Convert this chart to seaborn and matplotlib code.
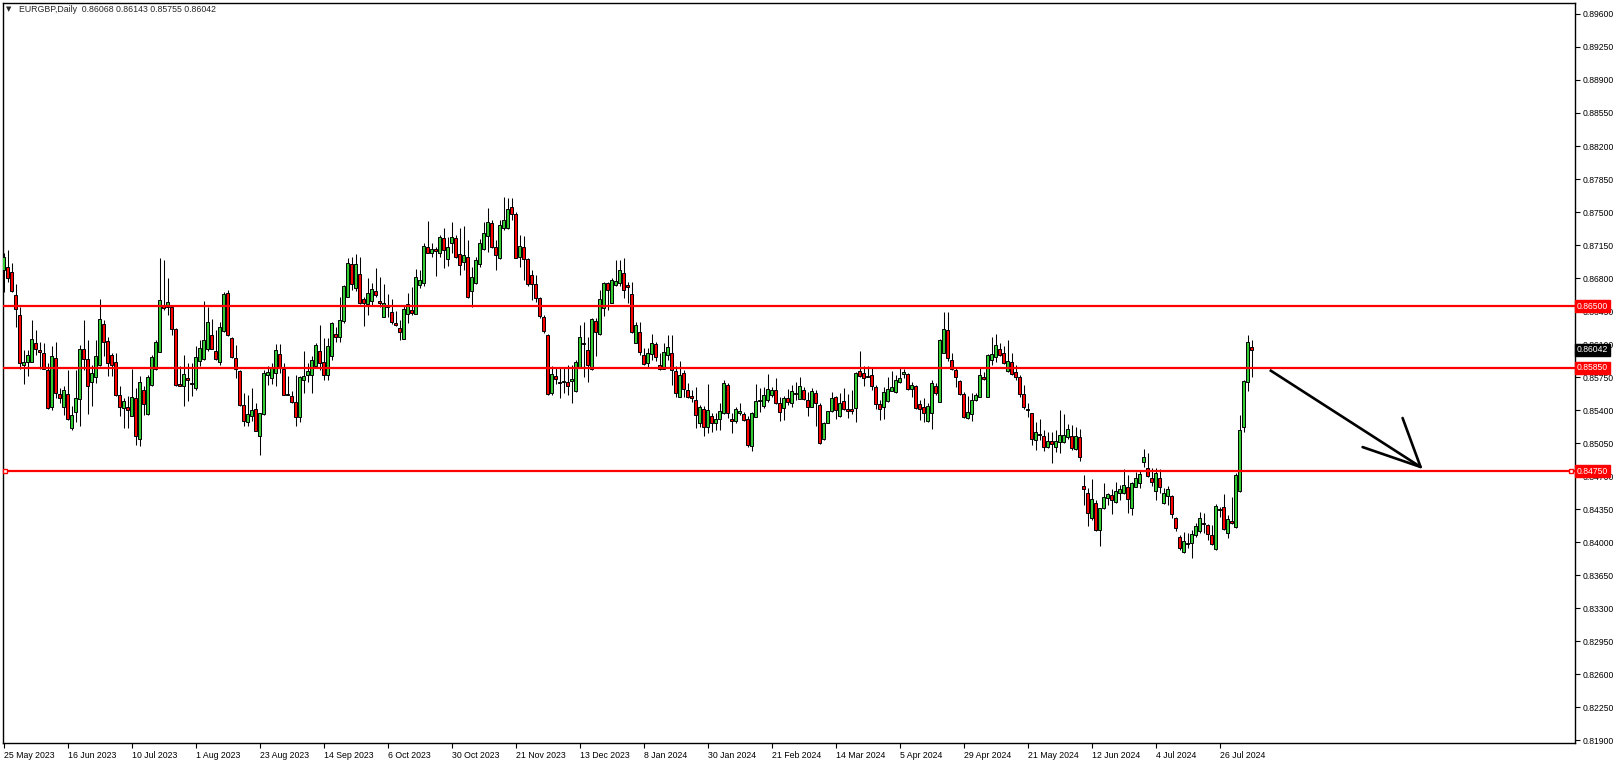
import numpy as np
import pandas as pd
import matplotlib
matplotlib.use("Agg")
import matplotlib.pyplot as plt
import matplotlib.transforms as mtransforms
import seaborn as sns

# EURGBP daily candles (oldest first)
opens = [
    0.86886, 0.86914, 0.86861, 0.86618, 0.86406, 0.85873, 0.85909, 0.85909, 0.86110, 0.86036,
    0.86004, 0.85824, 0.85432, 0.85951, 0.85573, 0.85432, 0.85573, 0.85206, 0.85379, 0.85517,
    0.86046, 0.85940, 0.85693, 0.85750, 0.85877, 0.86311, 0.86134, 0.85983, 0.85909, 0.85556,
    0.85421, 0.85432, 0.85340, 0.85527, 0.85093, 0.85612, 0.85358, 0.85665, 0.85834, 0.86014,
    0.86512, 0.86494, 0.86498, 0.86258, 0.85676, 0.85651, 0.85739, 0.85690, 0.85633, 0.85916,
    0.85940, 0.86050, 0.86194, 0.86029, 0.85905, 0.86244, 0.86639, 0.86163, 0.85955, 0.85813,
    0.85456, 0.85273, 0.85333, 0.85411, 0.85121, 0.85358, 0.85767, 0.85739, 0.85792, 0.85993,
    0.85834, 0.85573, 0.85552, 0.85485, 0.85326, 0.85714, 0.85771, 0.85774, 0.85870, 0.86022,
    0.85909, 0.85767, 0.85974, 0.86203, 0.86172, 0.86341, 0.86603, 0.86946, 0.86691, 0.86839,
    0.86574, 0.86521, 0.86560, 0.86659, 0.86553, 0.86391, 0.86504, 0.86437, 0.86320, 0.86267,
    0.86150, 0.86415, 0.86461, 0.86422, 0.86730, 0.86744, 0.87126, 0.87069, 0.87108, 0.87062,
    0.87221, 0.87006, 0.87168, 0.87221, 0.87055, 0.86974, 0.87020, 0.86666, 0.86744, 0.86946,
    0.87105, 0.87249, 0.87387, 0.87126, 0.87009, 0.87327, 0.87327, 0.87550, 0.87476, 0.87020,
    0.87126, 0.86999, 0.86829, 0.86741, 0.86585, 0.86384, 0.86193, 0.85578, 0.85765, 0.85702,
    0.85698, 0.85694, 0.85712, 0.85606, 0.85861, 0.86097, 0.86034, 0.85832, 0.86345, 0.86203,
    0.86486, 0.86744, 0.86539, 0.86726, 0.86744, 0.86850, 0.86723, 0.86627, 0.86115, 0.86232,
    0.85984, 0.85896, 0.85991, 0.86101, 0.85882, 0.85839, 0.85981, 0.86002, 0.85815, 0.85543,
    0.85790, 0.85613, 0.85550, 0.85507, 0.85260, 0.85415, 0.85224, 0.85338, 0.85260, 0.85302,
    0.85366, 0.85663, 0.85302, 0.85285, 0.85366, 0.85355, 0.85302, 0.85024, 0.85330, 0.85493,
    0.85444, 0.85504, 0.85557, 0.85613, 0.85472, 0.85419, 0.85525, 0.85472, 0.85571, 0.85521,
    0.85613, 0.85507, 0.85437, 0.85578, 0.85454, 0.85090, 0.85267, 0.85394, 0.85535, 0.85338,
    0.85496, 0.85412, 0.85412, 0.85426, 0.85815, 0.85790, 0.85762, 0.85772, 0.85649, 0.85461,
    0.85430, 0.85493, 0.85606, 0.85595, 0.85698, 0.85779, 0.85779, 0.85627, 0.85656, 0.85461,
    0.85430, 0.85288, 0.85373, 0.85656, 0.85489, 0.86009, 0.86249, 0.85931, 0.85825, 0.85709,
    0.85571, 0.85313, 0.85359, 0.85507, 0.85543, 0.85748, 0.85543, 0.85931, 0.85967, 0.86044,
    0.86002, 0.85815, 0.85910, 0.85804, 0.85748, 0.85567, 0.85412, 0.85366, 0.85083, 0.85143,
    0.85126, 0.85013, 0.85073, 0.85013, 0.85066, 0.85066, 0.85111, 0.85126, 0.84988, 0.85111,
    0.84595, 0.84518, 0.84253, 0.84412, 0.84129, 0.84359, 0.84465, 0.84500, 0.84429, 0.84518,
    0.84518, 0.84581, 0.84359, 0.84588, 0.84631, 0.84853, 0.84783, 0.84677, 0.84546, 0.84677,
    0.84412, 0.84489, 0.84493, 0.84253, 0.84058, 0.83899, 0.83977, 0.83988, 0.84076, 0.84118,
    0.84200, 0.84178, 0.84072, 0.83924, 0.84341, 0.84376, 0.84094, 0.84224, 0.84164, 0.84542,
    0.85218, 0.85702, 0.86068,
]
highs = [
    0.87063, 0.87098, 0.86957, 0.86738, 0.86498, 0.86039, 0.86039, 0.86357, 0.86251, 0.86127,
    0.86110, 0.85898, 0.86075, 0.86127, 0.85630, 0.85651, 0.85827, 0.85439, 0.85827, 0.86092,
    0.86357, 0.86145, 0.85880, 0.86145, 0.86576, 0.86357, 0.86180, 0.86004, 0.86004, 0.85651,
    0.85527, 0.85545, 0.85834, 0.85633, 0.85757, 0.85658, 0.85774, 0.85983, 0.86145, 0.87010,
    0.86992, 0.86798, 0.86516, 0.86269, 0.85863, 0.85986, 0.85898, 0.85898, 0.86075, 0.86145,
    0.86558, 0.86491, 0.86364, 0.86251, 0.86339, 0.86657, 0.86675, 0.86180, 0.86092, 0.85827,
    0.85580, 0.85563, 0.85633, 0.85474, 0.85369, 0.85827, 0.85863, 0.85898, 0.86099, 0.86099,
    0.85898, 0.85757, 0.85598, 0.85774, 0.85757, 0.86022, 0.85898, 0.85976, 0.86110, 0.86304,
    0.86163, 0.86163, 0.86338, 0.86285, 0.86603, 0.86726, 0.87009, 0.87027, 0.87055, 0.87020,
    0.86603, 0.86797, 0.86744, 0.86903, 0.86815, 0.86734, 0.86627, 0.86578, 0.86454, 0.86355,
    0.86504, 0.86638, 0.86709, 0.86892, 0.86885, 0.87168, 0.87405, 0.87168, 0.87133, 0.87257,
    0.87327, 0.87239, 0.87398, 0.87257, 0.87327, 0.87352, 0.87203, 0.86921, 0.87027, 0.87211,
    0.87398, 0.87539, 0.87416, 0.87203, 0.87416, 0.87663, 0.87645, 0.87645, 0.87497, 0.87257,
    0.87246, 0.87016, 0.86885, 0.86832, 0.86596, 0.86408, 0.86203, 0.85868, 0.85861, 0.85843,
    0.85843, 0.85878, 0.85878, 0.85931, 0.86302, 0.86338, 0.86179, 0.86373, 0.86373, 0.86673,
    0.86762, 0.86762, 0.86797, 0.86992, 0.86992, 0.87009, 0.86762, 0.86762, 0.86338, 0.86338,
    0.86055, 0.86055, 0.86207, 0.86126, 0.86002, 0.86115, 0.86193, 0.86193, 0.85868, 0.85924,
    0.85825, 0.85684, 0.85613, 0.85642, 0.85454, 0.85444, 0.85673, 0.85373, 0.85373, 0.85479,
    0.85719, 0.85684, 0.85373, 0.85437, 0.85479, 0.85384, 0.85338, 0.85384, 0.85677, 0.85631,
    0.85642, 0.85783, 0.85649, 0.85737, 0.85543, 0.85550, 0.85627, 0.85666, 0.85702, 0.85755,
    0.85649, 0.85595, 0.85631, 0.85613, 0.85472, 0.85278, 0.85391, 0.85595, 0.85550, 0.85578,
    0.85631, 0.85567, 0.85613, 0.85808, 0.86027, 0.85868, 0.85868, 0.85843, 0.85666, 0.85507,
    0.85642, 0.85747, 0.85818, 0.85772, 0.85843, 0.85836, 0.85790, 0.85702, 0.85666, 0.85507,
    0.85525, 0.85472, 0.85719, 0.85691, 0.86150, 0.86444, 0.86444, 0.86002, 0.85854, 0.85719,
    0.85595, 0.85550, 0.85578, 0.85585, 0.85861, 0.85808, 0.85995, 0.86172, 0.86207, 0.86108,
    0.86080, 0.86143, 0.86009, 0.85878, 0.85772, 0.85666, 0.85472, 0.85373, 0.85278, 0.85302,
    0.85189, 0.85171, 0.85171, 0.85189, 0.85401, 0.85359, 0.85253, 0.85242, 0.85218, 0.85196,
    0.84712, 0.84571, 0.84666, 0.84447, 0.84366, 0.84631, 0.84525, 0.84560, 0.84641, 0.84606,
    0.84772, 0.84712, 0.84641, 0.84747, 0.84765, 0.84984, 0.84949, 0.84783, 0.84783, 0.84772,
    0.84571, 0.84595, 0.84500, 0.84263, 0.84076, 0.84111, 0.84094, 0.84129, 0.84200, 0.84323,
    0.84306, 0.84189, 0.84182, 0.84405, 0.84376, 0.84507, 0.84288, 0.84482, 0.84730, 0.85348,
    0.85719, 0.86196, 0.86143,
]
lows = [
    0.86657, 0.86763, 0.86657, 0.86279, 0.85834, 0.85676, 0.85757, 0.85909, 0.85986, 0.85834,
    0.85834, 0.85411, 0.85404, 0.85527, 0.85474, 0.85351, 0.85298, 0.85192, 0.85270, 0.85227,
    0.85827, 0.85358, 0.85439, 0.85686, 0.85863, 0.85969, 0.85757, 0.85757, 0.85545, 0.85333,
    0.85210, 0.85210, 0.85333, 0.85033, 0.85023, 0.85351, 0.85351, 0.85651, 0.85827, 0.86011,
    0.86463, 0.86410, 0.86198, 0.85651, 0.85651, 0.85439, 0.85492, 0.85545, 0.85616, 0.85863,
    0.85933, 0.86022, 0.86046, 0.85933, 0.85880, 0.86233, 0.86187, 0.85951, 0.85739, 0.85439,
    0.85227, 0.85227, 0.85280, 0.85175, 0.84920, 0.85351, 0.85669, 0.85679, 0.85651, 0.85792,
    0.85556, 0.85559, 0.85474, 0.85227, 0.85270, 0.85580, 0.85693, 0.85580, 0.85856, 0.85827,
    0.85722, 0.85722, 0.85931, 0.86126, 0.86126, 0.86327, 0.86596, 0.86673, 0.86666, 0.86525,
    0.86295, 0.86408, 0.86514, 0.86603, 0.86497, 0.86384, 0.86391, 0.86313, 0.86292, 0.86143,
    0.86150, 0.86327, 0.86408, 0.86419, 0.86691, 0.86716, 0.87062, 0.87020, 0.86825, 0.87020,
    0.86903, 0.86928, 0.87062, 0.87009, 0.86832, 0.86885, 0.86585, 0.86497, 0.86737, 0.86914,
    0.87097, 0.87080, 0.87115, 0.86885, 0.86999, 0.87310, 0.87317, 0.87416, 0.87009, 0.86914,
    0.86780, 0.86716, 0.86567, 0.86550, 0.86380, 0.86214, 0.85560, 0.85560, 0.85677, 0.85525,
    0.85578, 0.85560, 0.85479, 0.85596, 0.85854, 0.85755, 0.85702, 0.85825, 0.85974, 0.86196,
    0.86398, 0.86461, 0.86532, 0.86716, 0.86716, 0.86585, 0.86532, 0.86221, 0.86108, 0.85984,
    0.85878, 0.85850, 0.85931, 0.85924, 0.85825, 0.85832, 0.85931, 0.85666, 0.85543, 0.85535,
    0.85543, 0.85525, 0.85489, 0.85207, 0.85224, 0.85129, 0.85161, 0.85172, 0.85189, 0.85189,
    0.85359, 0.85313, 0.85154, 0.85267, 0.85348, 0.85288, 0.85013, 0.84970, 0.85323, 0.85384,
    0.85419, 0.85489, 0.85543, 0.85461, 0.85285, 0.85295, 0.85454, 0.85437, 0.85507, 0.85514,
    0.85507, 0.85338, 0.85430, 0.85232, 0.85041, 0.85083, 0.85260, 0.85384, 0.85302, 0.85330,
    0.85401, 0.85320, 0.85355, 0.85278, 0.85755, 0.85656, 0.85747, 0.85613, 0.85408, 0.85295,
    0.85302, 0.85489, 0.85599, 0.85585, 0.85691, 0.85737, 0.85613, 0.85543, 0.85408, 0.85295,
    0.85278, 0.85270, 0.85200, 0.85560, 0.85482, 0.86002, 0.85924, 0.85825, 0.85642, 0.85560,
    0.85313, 0.85302, 0.85288, 0.85500, 0.85536, 0.85719, 0.85536, 0.85878, 0.85914, 0.85974,
    0.85889, 0.85808, 0.85772, 0.85719, 0.85543, 0.85408, 0.85331, 0.85030, 0.84977, 0.85083,
    0.84970, 0.84995, 0.84836, 0.84960, 0.84942, 0.85048, 0.85090, 0.84977, 0.84977, 0.84864,
    0.84394, 0.84172, 0.84235, 0.84122, 0.83959, 0.84348, 0.84394, 0.84299, 0.84412, 0.84447,
    0.84511, 0.84306, 0.84288, 0.84581, 0.84571, 0.84800, 0.84687, 0.84595, 0.84447, 0.84518,
    0.84405, 0.84394, 0.84253, 0.84122, 0.83917, 0.83882, 0.83934, 0.83829, 0.84058, 0.84101,
    0.84094, 0.84023, 0.83970, 0.83917, 0.84270, 0.84129, 0.84041, 0.84193, 0.84147, 0.84535,
    0.85171, 0.85606, 0.85755,
]
closes = [
    0.87027, 0.86798, 0.86667, 0.86470, 0.85898, 0.85909, 0.85983, 0.86152, 0.86053, 0.86014,
    0.85841, 0.85421, 0.85972, 0.85580, 0.85527, 0.85612, 0.85305, 0.85347, 0.85527, 0.86046,
    0.85940, 0.85651, 0.85792, 0.85969, 0.86364, 0.86127, 0.85898, 0.85873, 0.85556, 0.85428,
    0.85499, 0.85397, 0.85534, 0.85121, 0.85693, 0.85464, 0.85753, 0.85965, 0.86120, 0.86565,
    0.86480, 0.86544, 0.86262, 0.85669, 0.85655, 0.85782, 0.85714, 0.85676, 0.85965, 0.86057,
    0.86145, 0.86332, 0.86050, 0.85940, 0.86279, 0.86629, 0.86194, 0.85962, 0.85834, 0.85450,
    0.85280, 0.85361, 0.85400, 0.85182, 0.85365, 0.85792, 0.85803, 0.85852, 0.86039, 0.85845,
    0.85563, 0.85559, 0.85488, 0.85326, 0.85753, 0.85757, 0.85817, 0.85933, 0.86089, 0.85898,
    0.85771, 0.86075, 0.86320, 0.86172, 0.86352, 0.86716, 0.86956, 0.86734, 0.86946, 0.86539,
    0.86539, 0.86638, 0.86680, 0.86620, 0.86539, 0.86532, 0.86490, 0.86338, 0.86306, 0.86232,
    0.86468, 0.86521, 0.86426, 0.86808, 0.86780, 0.87140, 0.87069, 0.87108, 0.87083, 0.87232,
    0.87094, 0.87126, 0.87232, 0.87027, 0.86935, 0.87044, 0.86603, 0.86815, 0.86992, 0.87168,
    0.87281, 0.87391, 0.87126, 0.87041, 0.87359, 0.87412, 0.87529, 0.87479, 0.87016, 0.87140,
    0.86999, 0.86734, 0.86734, 0.86592, 0.86398, 0.86242, 0.85571, 0.85783, 0.85726, 0.85684,
    0.85705, 0.85659, 0.85726, 0.85914, 0.86172, 0.86108, 0.85878, 0.86362, 0.86232, 0.86574,
    0.86751, 0.86673, 0.86780, 0.86769, 0.86885, 0.86677, 0.86702, 0.86232, 0.86302, 0.86020,
    0.85885, 0.86002, 0.86108, 0.85967, 0.85839, 0.86013, 0.86066, 0.85825, 0.85585, 0.85769,
    0.85620, 0.85543, 0.85528, 0.85348, 0.85437, 0.85224, 0.85401, 0.85260, 0.85306, 0.85391,
    0.85684, 0.85366, 0.85288, 0.85415, 0.85387, 0.85295, 0.85034, 0.85366, 0.85496, 0.85507,
    0.85557, 0.85620, 0.85613, 0.85472, 0.85384, 0.85532, 0.85482, 0.85603, 0.85581, 0.85659,
    0.85514, 0.85437, 0.85606, 0.85472, 0.85055, 0.85267, 0.85391, 0.85525, 0.85401, 0.85472,
    0.85408, 0.85394, 0.85394, 0.85790, 0.85762, 0.85737, 0.85755, 0.85659, 0.85465, 0.85415,
    0.85588, 0.85624, 0.85642, 0.85719, 0.85737, 0.85804, 0.85627, 0.85663, 0.85419, 0.85415,
    0.85366, 0.85444, 0.85684, 0.85578, 0.86143, 0.86260, 0.85949, 0.85832, 0.85747, 0.85571,
    0.85330, 0.85376, 0.85507, 0.85560, 0.85772, 0.85726, 0.85984, 0.85995, 0.86090, 0.85984,
    0.85903, 0.85921, 0.85783, 0.85755, 0.85567, 0.85437, 0.85401, 0.85090, 0.85164, 0.85133,
    0.85013, 0.85073, 0.85041, 0.85073, 0.85133, 0.85136, 0.85196, 0.84995, 0.85126, 0.84906,
    0.84560, 0.84306, 0.84454, 0.84129, 0.84359, 0.84482, 0.84507, 0.84447, 0.84546, 0.84560,
    0.84606, 0.84454, 0.84624, 0.84677, 0.84723, 0.84899, 0.84702, 0.84641, 0.84730, 0.84581,
    0.84518, 0.84560, 0.84295, 0.84147, 0.83934, 0.84016, 0.83995, 0.84087, 0.84175, 0.84253,
    0.84189, 0.84083, 0.83977, 0.84387, 0.84348, 0.84136, 0.84242, 0.84200, 0.84712, 0.85189,
    0.85709, 0.86119, 0.86042,
]

# date labels, one every 16 bars
date_labels = ["25 May 2023", "16 Jun 2023", "10 Jul 2023", "1 Aug 2023", "23 Aug 2023",
               "14 Sep 2023", "6 Oct 2023", "30 Oct 2023", "21 Nov 2023", "13 Dec 2023",
               "8 Jan 2024", "30 Jan 2024", "21 Feb 2024", "14 Mar 2024", "5 Apr 2024",
               "29 Apr 2024", "21 May 2024", "12 Jun 2024", "4 Jul 2024", "26 Jul 2024"]
label_step = 16

levels = [0.86500, 0.85850, 0.84750]
last_price = 0.86042
# hand-drawn arrow (bar index, price)
arrow_from = (316.5, 0.85825)
arrow_to = (354.2, 0.84797)
arrow_wings = [(339.7, 0.85008), (349.7, 0.85316)]

df = pd.DataFrame({"open": opens, "high": highs, "low": lows, "close": closes})
df["x"] = np.arange(len(df))
df["up"] = df["close"] >= df["open"]

sns.set_style("white")
plt.rcParams["font.family"] = ["Liberation Sans", "DejaVu Sans"]

W, H = 1621, 764
fig = plt.figure(figsize=(W / 100, H / 100), dpi=100)
ax = fig.add_axes([3 / W, 21 / H, 1572 / W, 740 / H])

green = "#32CD32"
red = "#FF0000"

# wicks
ax.vlines(df["x"], df["low"], df["high"], color="black", linewidth=0.75, zorder=2)
# bodies
body_low = df[["open", "close"]].min(axis=1)
body_h = (df["close"] - df["open"]).abs().clip(lower=0.000015)
ax.bar(df["x"], body_h, bottom=body_low, width=0.78,
       color=np.where(df["up"], green, red), edgecolor="black", linewidth=0.7, zorder=3)

# support / resistance
for lv in levels:
    ax.axhline(lv, color=red, linewidth=1.6, zorder=4)
blend = mtransforms.blended_transform_factory(ax.transAxes, ax.transData)
ax.plot([0.0015, 0.9975], [levels[2], levels[2]], linestyle="none", marker="s", markersize=3.2,
        markerfacecolor="white", markeredgecolor=red, markeredgewidth=1.0,
        transform=blend, zorder=5, clip_on=False)

# arrow
ax.plot([arrow_from[0], arrow_to[0]], [arrow_from[1], arrow_to[1]], color="black", linewidth=1.9,
        solid_capstyle="butt", zorder=6)
for wx, wy in arrow_wings:
    ax.plot([wx, arrow_to[0]], [wy, arrow_to[1]], color="black", linewidth=1.9, zorder=6)

ax.set_xlim(-0.175, 392.8)
ax.set_ylim(0.818707, 0.897162)

# axes
ax.yaxis.tick_right()
yt = np.round(np.arange(0.81900, 0.89601, 0.00350), 5)
ax.set_yticks(yt)
ax.set_yticklabels([f"{v:.5f}" for v in yt])
ax.tick_params(axis="y", direction="out", length=3.5, width=0.8, pad=2, labelsize=6.2,
               colors="black", right=True, left=False)
xt = np.arange(len(date_labels)) * label_step
ax.set_xticks(xt)
ax.set_xticklabels(date_labels, ha="left")
ax.tick_params(axis="x", direction="out", length=3.5, width=0.8, pad=2, labelsize=6.3,
               colors="black", bottom=True)
for s in ax.spines.values():
    s.set_color("black")
    s.set_linewidth(1.0)

# price tags on the right
for lv in levels:
    ax.annotate(f"{lv:.5f}", xy=(1.0012, lv), xycoords=blend, ha="left", va="center",
                fontsize=6.2, color="white", zorder=10, annotation_clip=False,
                bbox=dict(boxstyle="square,pad=0.18", fc=red, ec=red))
ax.annotate(f"{last_price:.5f}", xy=(1.0012, last_price), xycoords=blend, ha="left", va="center",
            fontsize=6.2, color="white", zorder=10, annotation_clip=False,
            bbox=dict(boxstyle="square,pad=0.18", fc="black", ec="black"))

# header
ax.text(0.0022, 0.9915, "\u25bc", transform=ax.transAxes, fontsize=5, va="center", ha="left",
        family=["DejaVu Sans"])
ax.text(0.0100, 0.9915,
        f"EURGBP,Daily  {opens[-1]:.5f} {highs[-1]:.5f} {lows[-1]:.5f} {closes[-1]:.5f}",
        transform=ax.transAxes, fontsize=6.3, va="center", ha="left")

fig.savefig("out.png", dpi=100, facecolor="white")
